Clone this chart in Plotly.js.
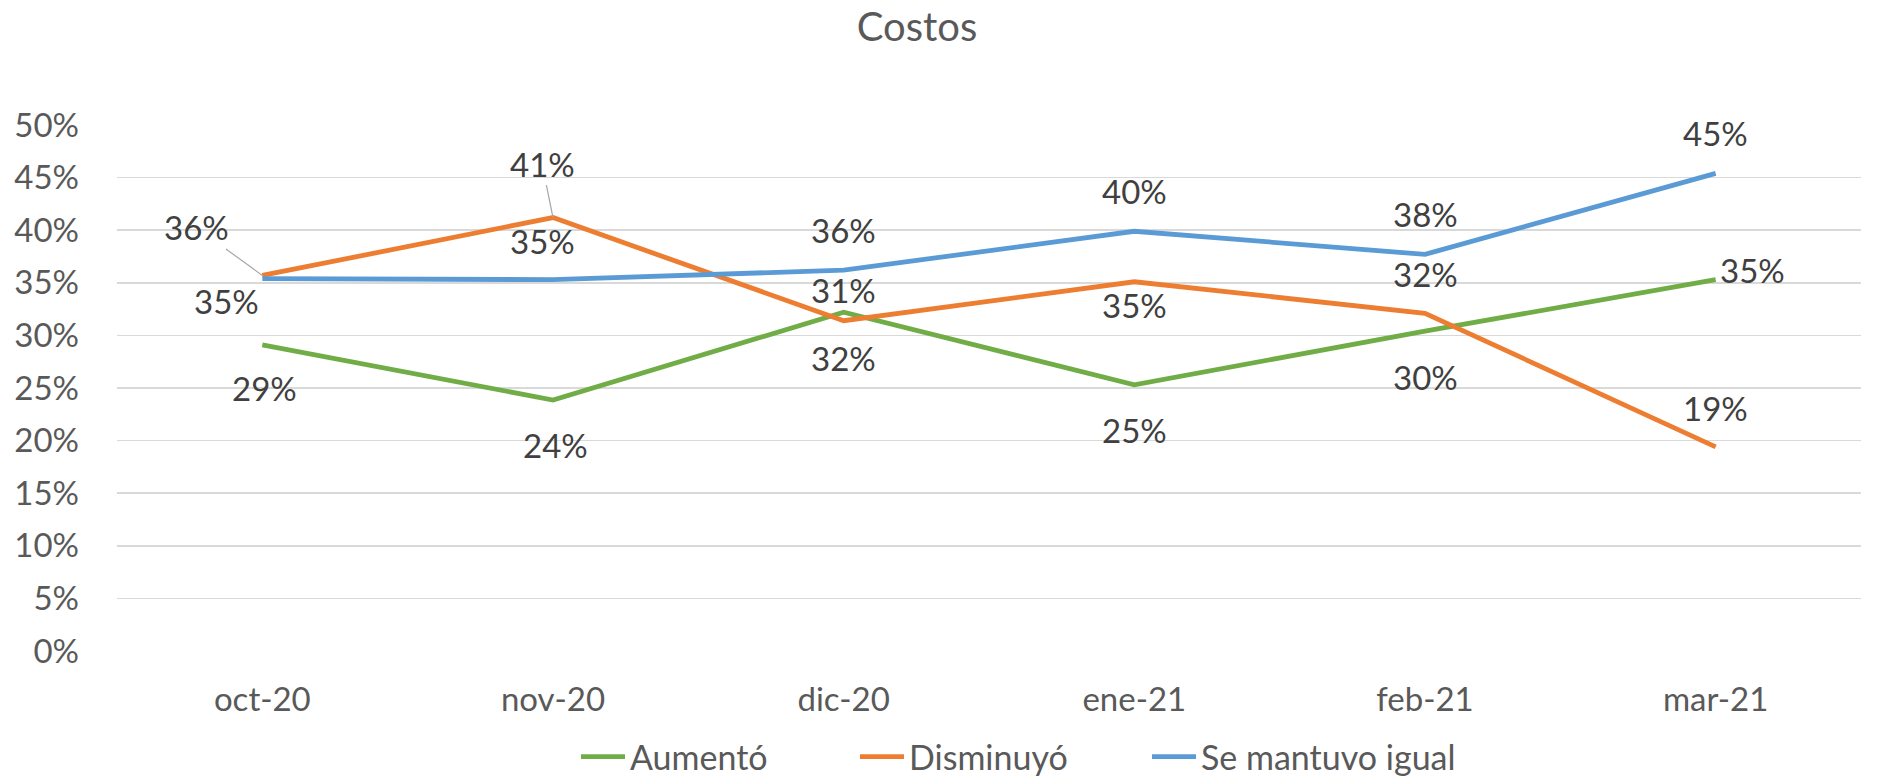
<!DOCTYPE html>
<html>
<head>
<meta charset="utf-8">
<script src="https://cdn.plot.ly/plotly-3.0.1.min.js"></script>
<style>html,body{margin:0;padding:0;background:#fff;}#chart{width:1891px;height:779px;}</style>
</head>
<body>
<div id="chart"></div>
<script>
const categories = ["oct-20", "nov-20", "dic-20", "ene-21", "feb-21", "mar-21"];
const aumento = [0.291, 0.2385, 0.322, 0.253, 0.304, 0.353];
const disminuyo = [0.357, 0.412, 0.314, 0.351, 0.321, 0.194];
const mantuvo = [0.354, 0.353, 0.362, 0.399, 0.377, 0.454];
const seriesNames = ["Aumentó", "Disminuyó", "Se mantuvo igual"];
const yTickVals = [0, 0.05, 0.1, 0.15, 0.2, 0.25, 0.3, 0.35, 0.4, 0.45, 0.5];

const FONT = "Lato, 'Open Sans', sans-serif";
const colors = ["#70AD47", "#ED7D31", "#5B9BD5"];
const series = [aumento, disminuyo, mantuvo];
const legendIds = ["legend", "legend2", "legend3"];
const legendLeft = [576, 855, 1147];

// label offsets in pixels [dx, dy(up positive), leader]
const labelPos = [
  [[2,-43],[2,-45],[0,-46],[0,-45],[0,-46],[37,10]],
  [[-66,48,true],[-11,54,true],[0,31],[0,-23],[0,39],[0,39]],
  [[-36,-22],[-11,39],[0,40],[0,40],[0,40],[0,40]]
];

const traces = series.map((vals, s) => ({
  type: "scatter", mode: "lines", name: seriesNames[s],
  x: categories, y: vals, legend: legendIds[s],
  line: {color: colors[s], width: 4.8},
  hoverinfo: "skip"
}));

const annotations = [];
series.forEach((vals, s) => {
  vals.forEach((v, i) => {
    const p = labelPos[s][i];
    const txt = Math.round(v * 100) + "%";
    if (p[2]) {
      annotations.push({
        x: categories[i], y: v, xref: "x", yref: "y", text: txt,
        showarrow: true, arrowhead: 0, arrowwidth: 1.2, arrowcolor: "#A6A6A6",
        ax: p[0], ay: -p[1], standoff: 0,
        font: {family: FONT, size: 33, color: "#404040"}
      });
    } else {
      annotations.push({
        x: categories[i], y: v, xref: "x", yref: "y", text: txt,
        showarrow: false, xshift: p[0], yshift: p[1],
        font: {family: FONT, size: 33, color: "#404040"}
      });
    }
  });
});

const layout = {
  width: 1891, height: 779,
  paper_bgcolor: "#fff", plot_bgcolor: "#fff",
  margin: {l: 117, r: 30, t: 125, b: 128, autoexpand: false},
  font: {family: FONT, color: "#595959", size: 33},
  title: {
    text: "Costos", x: 917/1891, xref: "container", xanchor: "center",
    y: 1 - 27/779, yref: "container", yanchor: "middle",
    font: {family: FONT, size: 40, color: "#595959"}
  },
  xaxis: {
    type: "category", range: [-0.5, 5.5], showgrid: false, zeroline: false,
    showline: false, ticks: "", ticklabelstandoff: 26,
    tickfont: {family: FONT, size: 33, color: "#595959"}
  },
  yaxis: {
    range: [0, 0.5], tickvals: yTickVals, tickformat: ".0%",
    showgrid: true, gridcolor: "#D9D9D9", gridwidth: 1.5, zeroline: false,
    showline: false, ticks: "", ticklabelstandoff: 37,
    tickfont: {family: FONT, size: 33, color: "#595959"}
  },
  showlegend: true,
  annotations: annotations
};
legendIds.forEach((id, s) => {
  layout[id] = {
    orientation: "h", x: legendLeft[s]/1891, xref: "container", xanchor: "left",
    y: 1 - 757/779, yref: "container", yanchor: "middle",
    font: {family: FONT, size: 34, color: "#595959"},
    bgcolor: "rgba(0,0,0,0)", itemwidth: 44
  };
});

Plotly.newPlot("chart", traces, layout, {displayModeBar: false, staticPlot: true});
</script>
</body>
</html>
